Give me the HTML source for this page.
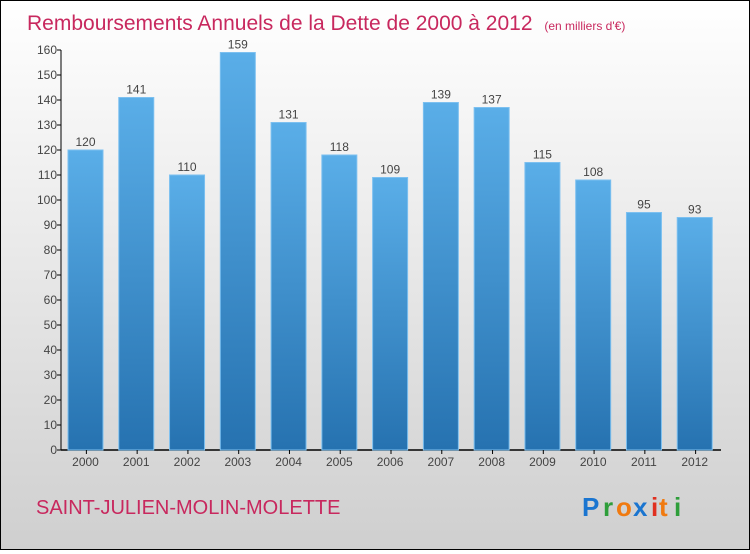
<!DOCTYPE html>
<html><head><meta charset="utf-8"><style>
html,body{margin:0;padding:0}
body{width:750px;height:550px;overflow:hidden;font-family:"Liberation Sans",sans-serif}
#wrap{position:absolute;left:0;top:0;width:748px;height:548px;border:1px solid #000;background:linear-gradient(#ffffff,#cfcfcf)}
</style></head><body>
<div id="wrap">
<svg width="748" height="548" viewBox="1 1 748 548" xmlns="http://www.w3.org/2000/svg">
<defs><linearGradient id="bg" x1="0" y1="0" x2="0" y2="1"><stop offset="0" stop-color="#5aaee8"/><stop offset="1" stop-color="#2672b0"/></linearGradient></defs>
<text x="27" y="30" font-size="21" fill="#c8285e">Remboursements Annuels de la Dette de 2000 à 2012 <tspan font-size="12" dx="6">(en milliers d'€)</tspan></text>
<g id="yaxis"></g>
<g id="bars"></g>
<text x="36" y="514" font-size="20" fill="#c8285e">SAINT-JULIEN-MOLIN-MOLETTE</text>
<g font-size="26" font-weight="bold" font-family="'Liberation Sans',sans-serif">
<text x="582" y="516" fill="#1a75d0">P</text><text x="603" y="516" fill="#2e9e3a">r</text><text x="616" y="516" fill="#f07a10">o</text><text x="633" y="516" fill="#1a75d0">x</text><text x="651" y="516" fill="#e03020">i</text><text x="659" y="516" fill="#f07a10">t</text><text x="674" y="516" fill="#2e9e3a">i</text>
</g>
</svg></div>
<script>
const categories=["2000","2001","2002","2003","2004","2005","2006","2007","2008","2009","2010","2011","2012"];
const values=[120,141,110,159,131,118,109,139,137,115,108,95,93];
const yTicks=[0,10,20,30,40,50,60,70,80,90,100,110,120,130,140,150,160];
const NS="http://www.w3.org/2000/svg";
const x0=61,x1=721,yb=450,yt=50,ymax=160;
const band=(x1-x0)/categories.length;
function y(v){return yb-(yb-yt)*v/ymax;}
function mk(t,a,p){const e=document.createElementNS(NS,t);for(const k in a)e.setAttribute(k,a[k]);p.appendChild(e);return e;}
const ya=document.getElementById('yaxis'),bg=document.getElementById('bars');
let l=mk('line',{x1:x0,y1:yt,x2:x0,y2:yb,stroke:'#000','stroke-width':1},ya);


l=mk('line',{x1:x0,y1:yb,x2:x1,y2:yb,stroke:'#000','stroke-width':1.5},ya);


yTicks.forEach(v=>{
 const t=mk('line',{x1:x0-4,y1:y(v),x2:x0,y2:y(v),stroke:'#000'},ya);
 
 
 const tx=mk('text',{x:x0-4,y:y(v)+4,'text-anchor':'end','font-size':12,fill:'#444'},ya);
 tx.textContent=v;
 
 
});
categories.forEach((c,i)=>{
 const bx=x0+i*band+7,w=35,v=values[i];
 const r=mk('rect',{x:bx,y:y(v),width:w,height:yb-y(v),fill:'url(#bg)',stroke:'#7cc0f0','stroke-width':1},bg);
 
 
 const vl=mk('text',{x:bx+w/2,y:y(v)-4,'text-anchor':'middle','font-size':12,fill:'#444'},bg);
 vl.textContent=v;
 
 
 const t=mk('line',{x1:x0+i*band+band/2,y1:yb,x2:x0+i*band+band/2,y2:yb+4,stroke:'#000'},bg);
 
 
 const xl=mk('text',{x:bx+w/2,y:yb+16,'text-anchor':'middle','font-size':12,fill:'#444'},bg);
 xl.textContent=c;
 
 
});
</script>
</body></html>
